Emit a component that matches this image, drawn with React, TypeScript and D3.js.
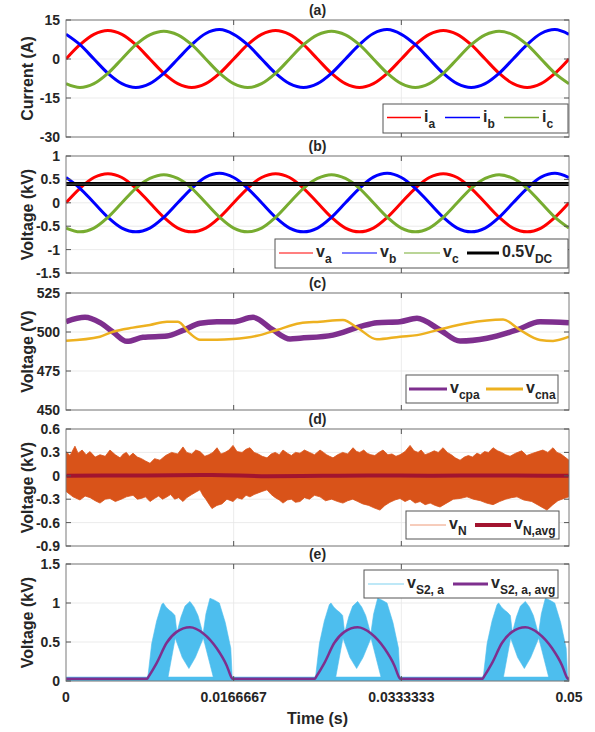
import React from 'react';
import * as d3 from 'd3';

// ---------- layout ----------
const W = 595;
const H = 732;
const X0 = 66;
const X1 = 569;
const PANEL_H = 117;
const panelTops = [20, 156, 293, 429, 564];
const FONT = "'Liberation Sans', Arial, Helvetica, sans-serif";
const TXT = '#262626';

// ---------- x axis ----------
const xDomain = [0, 0.05];
const xTicks = [0, 0.0166667, 0.0333333, 0.05];
const xTickLabels = ['0', '0.0166667', '0.0333333', '0.05'];

// ---------- (a) currents, sampled every 30 degrees ----------
const tSin = d3.range(37).map((i) => (i * 0.05) / 36);
const iA = [0, 5.5, 9.5, 11, 9.5, 5.5, 0, -5.5, -9.5, -11, -9.5, -5.5,
  0, 5.5, 9.5, 11, 9.5, 5.5, 0, -5.5, -9.5, -11, -9.5, -5.5,
  0, 5.5, 9.5, 11, 9.5, 5.5, 0, -5.5, -9.5, -11, -9.5, -5.5, 0];
const iB = [9.5, 5.5, 0, -5.5, -9.5, -11, -9.5, -5.5, 0, 5.5, 9.8, 11.3,
  9.5, 5.5, 0, -5.5, -9.5, -11, -9.5, -5.5, 0, 5.5, 9.8, 11.3,
  9.5, 5.5, 0, -5.5, -9.5, -11, -9.5, -5.5, 0, 5.5, 9.8, 11.3, 9.5];
const iC = [-9.5, -11, -9.5, -5.5, 0, 5.5, 9.3, 10.7, 9.3, 5.5, 0, -5.5,
  -9.5, -11, -9.5, -5.5, 0, 5.5, 9.3, 10.7, 9.3, 5.5, 0, -5.5,
  -9.5, -11, -9.5, -5.5, 0, 5.5, 9.3, 10.7, 9.3, 5.5, 0, -5.5, -9.5];

// ---------- (b) voltages (kV) ----------
const vA = [0, 0.31, 0.54, 0.62, 0.54, 0.31, 0, -0.31, -0.54, -0.62, -0.54, -0.31,
  0, 0.31, 0.54, 0.62, 0.54, 0.31, 0, -0.31, -0.54, -0.62, -0.54, -0.31,
  0, 0.31, 0.54, 0.62, 0.54, 0.31, 0, -0.31, -0.54, -0.62, -0.54, -0.31, 0];
const vB = [0.54, 0.31, 0, -0.31, -0.54, -0.62, -0.54, -0.31, 0, 0.31, 0.55, 0.63,
  0.54, 0.31, 0, -0.31, -0.54, -0.62, -0.54, -0.31, 0, 0.31, 0.55, 0.63,
  0.54, 0.31, 0, -0.31, -0.54, -0.62, -0.54, -0.31, 0, 0.31, 0.55, 0.63, 0.54];
const vC = [-0.54, -0.62, -0.54, -0.31, 0, 0.31, 0.52, 0.6, 0.52, 0.31, 0, -0.31,
  -0.54, -0.62, -0.54, -0.31, 0, 0.31, 0.52, 0.6, 0.52, 0.31, 0, -0.31,
  -0.54, -0.62, -0.54, -0.31, 0, 0.31, 0.52, 0.6, 0.52, 0.31, 0, -0.31, -0.54];
const vDcHalf = 0.4;

// ---------- (c) capacitor voltages (V) ----------
const vCpaT = [0, 0.00189, 0.00338, 0.00467, 0.00606, 0.00765, 0.01004, 0.01163, 0.01332, 0.01501, 0.0166,
  0.01859, 0.02058, 0.02227, 0.02326, 0.02654, 0.02922, 0.03091, 0.0332, 0.03489, 0.03718, 0.03917,
  0.04185, 0.04483, 0.04712, 0.05];
const vCpaV = [506.6, 509.4, 506, 500, 494, 496.6, 497.4, 501, 505.6, 506.6, 506.6,
  509.4, 501.3, 495.5, 496, 498, 503.4, 506, 506.6, 508.8, 501.3, 494.2,
  496, 501.3, 506.6, 506];
const vCnaT = [0, 0.00338, 0.00467, 0.00666, 0.00835, 0.01004, 0.01113, 0.01233, 0.01332, 0.01501, 0.0166,
  0.01928, 0.02097, 0.02326, 0.02525, 0.02753, 0.02903, 0.03091, 0.0332, 0.03489, 0.03718, 0.03986,
  0.04344, 0.04513, 0.04712, 0.04841, 0.05];
const vCnaV = [494.4, 497, 500.2, 502.8, 504.5, 506.6, 506.6, 499, 495, 495, 495.5,
  498, 501.3, 505.6, 506.6, 507.7, 502.4, 495.3, 497, 498, 501.7, 505.6,
  508, 501.3, 494.9, 494.3, 497];

// ---------- (d) neutral voltage envelope (kV) ----------
const vNUpper: [number, number][] = [[0, 0.31], [0.0004, 0.26], [0.00089, 0.38], [0.0012, 0.29], [0.0016, 0.33], [0.002, 0.27],
  [0.00239, 0.31], [0.0029, 0.24], [0.00338, 0.27], [0.0039, 0.25], [0.00437, 0.33], [0.0049, 0.27], [0.00537, 0.23],
  [0.0057, 0.28], [0.006, 0.3], [0.0063, 0.25], [0.00666, 0.29], [0.0071, 0.24], [0.0075, 0.22], [0.0079, 0.19],
  [0.00835, 0.16], [0.0088, 0.22], [0.00934, 0.2], [0.0099, 0.26], [0.0105, 0.3], [0.0111, 0.28], [0.01163, 0.37],
  [0.012, 0.3], [0.0125, 0.28], [0.0129, 0.33], [0.01332, 0.31], [0.0138, 0.25], [0.0142, 0.27], [0.0146, 0.3],
  [0.01501, 0.36], [0.0154, 0.28], [0.0158, 0.3], [0.0162, 0.33], [0.0166, 0.39], [0.017, 0.31], [0.0175, 0.3],
  [0.0179, 0.34], [0.01829, 0.36], [0.0187, 0.3], [0.0191, 0.28], [0.0195, 0.25], [0.01998, 0.23], [0.0204, 0.28],
  [0.0208, 0.3], [0.0212, 0.27], [0.02157, 0.33], [0.022, 0.29], [0.0224, 0.26], [0.0228, 0.3], [0.02326, 0.29],
  [0.0237, 0.33], [0.0242, 0.3], [0.0247, 0.27], [0.02525, 0.33], [0.0256, 0.3], [0.0259, 0.27], [0.0262, 0.25],
  [0.02654, 0.23], [0.027, 0.27], [0.0275, 0.3], [0.028, 0.28], [0.02853, 0.36], [0.0289, 0.31], [0.0292, 0.3],
  [0.0296, 0.33], [0.02992, 0.29], [0.0303, 0.27], [0.0307, 0.26], [0.0311, 0.3], [0.03151, 0.33], [0.032, 0.27],
  [0.0324, 0.28], [0.0328, 0.25], [0.0332, 0.27], [0.0337, 0.31], [0.0342, 0.39], [0.0346, 0.32], [0.035, 0.3],
  [0.0353, 0.33], [0.03569, 0.27], [0.0361, 0.29], [0.0366, 0.32], [0.037, 0.3], [0.03748, 0.36], [0.0379, 0.3],
  [0.0383, 0.27], [0.0387, 0.23], [0.03917, 0.2], [0.0396, 0.24], [0.04, 0.26], [0.0404, 0.24], [0.04085, 0.29],
  [0.0412, 0.27], [0.0416, 0.31], [0.042, 0.3], [0.04245, 0.36], [0.0429, 0.32], [0.0433, 0.3], [0.0437, 0.27],
  [0.04414, 0.25], [0.0447, 0.29], [0.0453, 0.32], [0.0458, 0.26], [0.04642, 0.29], [0.0469, 0.31], [0.0474, 0.33],
  [0.0479, 0.3], [0.04841, 0.36], [0.0488, 0.3], [0.0492, 0.28], [0.0496, 0.24], [0.05, 0.2]];
const vNLower: [number, number][] = [[0, -0.2], [0.0007, -0.27], [0.00139, -0.31], [0.0019, -0.26], [0.0024, -0.28], [0.0029, -0.32],
  [0.00338, -0.35], [0.0039, -0.3], [0.00437, -0.29], [0.0049, -0.33], [0.0055, -0.3], [0.006, -0.27], [0.00666, -0.25],
  [0.0071, -0.3], [0.0075, -0.29], [0.0079, -0.27], [0.00835, -0.33], [0.0088, -0.29], [0.0092, -0.26], [0.0096, -0.3],
  [0.01004, -0.27], [0.0104, -0.24], [0.0108, -0.3], [0.0112, -0.28], [0.01163, -0.33], [0.012, -0.28], [0.0125, -0.24],
  [0.0129, -0.21], [0.01332, -0.18], [0.0136, -0.25], [0.0139, -0.3], [0.0142, -0.36], [0.01451, -0.42], [0.015, -0.38],
  [0.0155, -0.36], [0.016, -0.3], [0.0166, -0.33], [0.017, -0.28], [0.0175, -0.3], [0.0179, -0.25], [0.01829, -0.27],
  [0.0187, -0.24], [0.0191, -0.22], [0.0195, -0.2], [0.01998, -0.18], [0.0204, -0.24], [0.0208, -0.28], [0.0212, -0.31],
  [0.02157, -0.35], [0.022, -0.31], [0.0224, -0.3], [0.0228, -0.34], [0.02326, -0.33], [0.0237, -0.28], [0.0242, -0.3],
  [0.0247, -0.25], [0.02525, -0.27], [0.0258, -0.32], [0.0264, -0.3], [0.027, -0.33], [0.02753, -0.35], [0.028, -0.32],
  [0.0285, -0.3], [0.029, -0.33], [0.0295, -0.36], [0.0301, -0.38], [0.0306, -0.41], [0.03121, -0.44], [0.0317, -0.38],
  [0.0322, -0.34], [0.0327, -0.31], [0.0332, -0.29], [0.0337, -0.33], [0.0342, -0.3], [0.0347, -0.35], [0.0352, -0.33],
  [0.0357, -0.37], [0.0362, -0.35], [0.0367, -0.38], [0.03718, -0.4], [0.0377, -0.36], [0.0385, -0.3], [0.0392, -0.29],
  [0.03986, -0.27], [0.0405, -0.3], [0.0412, -0.32], [0.0418, -0.35], [0.04245, -0.37], [0.0431, -0.33], [0.0437, -0.3],
  [0.0443, -0.28], [0.04483, -0.27], [0.0455, -0.31], [0.0463, -0.33], [0.047, -0.38], [0.04781, -0.44], [0.0484, -0.37],
  [0.0489, -0.32], [0.0495, -0.29], [0.05, -0.27]];
const vNAvg: [number, number][] = [[0, 0], [0.008, 0.005], [0.0145, 0.01], [0.02, -0.005], [0.0255, 0], [0.03, 0.005],
  [0.0365, 0], [0.042, 0.005], [0.0475, 0], [0.05, 0]];

// ---------- (e) switch voltage (kV) ----------
const pulseStarts = [0.00808, 0.02475, 0.04142];
const pulseUpperDt = [0, 0.0001, 0.00044, 0.00093, 0.00143, 0.00159, 0.00186, 0.00216, 0.00246, 0.00275, 0.00295,
  0.00335, 0.00375, 0.00424, 0.00464, 0.00504, 0.00534, 0.00554, 0.00583, 0.00623, 0.00663, 0.00716, 0.00775,
  0.0083, 0.00845];
const pulseUpperV = [0.03, 0.1, 0.48, 0.77, 0.98, 1.0, 0.95, 0.91, 0.88, 0.84, 0.62,
  0.82, 0.96, 1.02, 0.95, 0.84, 0.7, 0.6, 0.86, 1.06, 1.04, 1.0, 0.75, 0.42, 0.03];
const pulseLowerDt = [0, 0.00199, 0.00278, 0.00348, 0.00414, 0.00477, 0.00557, 0.00666, 0.00845];
const pulseLowerV = [0, 0, 0.55, 0.3, 0.16, 0.3, 0.55, 0, 0];
const avgDt = [0, 0.0001, 0.00093, 0.00193, 0.00292, 0.00424, 0.00557, 0.0069, 0.00789, 0.00839, 0.00845];
const avgV = [0.03, 0.05, 0.23, 0.49, 0.63, 0.69, 0.61, 0.42, 0.2, 0.04, 0.03];
const vS2OffBand = [0, 0.055];
const vS2OffAvg = 0.03;

// ---------- colours ----------
const RED = '#FF0000';
const BLUE = '#0000FF';
const GREEN = '#77AC30';
const PURPLE = '#7E2F8E';
const YELLOW = '#EDB120';
const ORANGE = '#D95319';
const DARKRED = '#A2142F';
const LIGHTBLUE = '#4DBEEE';

const x = d3.scaleLinear().domain(xDomain).range([X0, X1]);

type Pt = [number, number];

function polygon(upper: Pt[], lower: Pt[], y: d3.ScaleLinear<number, number>) {
  const pts = [...upper, ...lower.slice().reverse()].map((p) => [x(p[0]), y(p[1])] as [number, number]);
  return (d3.line()(pts) || '') + 'Z';
}

const panels = [
  { key: 'a', title: '(a)', ylabel: 'Current (A)', domain: [-30, 15], ticks: [15, 0, -15, -30], labels: ['15', '0', '-15', '-30'] },
  { key: 'b', title: '(b)', ylabel: 'Voltage (kV)', domain: [-1.5, 1], ticks: [1, 0.5, 0, -0.5, -1, -1.5], labels: ['1', '0.5', '0', '-0.5', '-1', '-1.5'] },
  { key: 'c', title: '(c)', ylabel: 'Voltage (V)', domain: [450, 525], ticks: [525, 500, 475, 450], labels: ['525', '500', '475', '450'] },
  { key: 'd', title: '(d)', ylabel: 'Voltage (kV)', domain: [-0.9, 0.6], ticks: [0.6, 0.3, 0, -0.3, -0.6, -0.9], labels: ['0.6', '0.3', '0', '-0.3', '-0.6', '-0.9'] },
  { key: 'e', title: '(e)', ylabel: 'Voltage (kV)', domain: [0, 1.5], ticks: [1.5, 1, 0.5, 0], labels: ['1.5', '1', '0.5', '0'] },
];

type LegItem = { x1: number; x2: number; color: string; width: number; main: string; sub: string };
type Leg = { box: [number, number, number, number]; lineY: number; items: LegItem[] };

const legends: Record<string, Leg> = {
  a: { box: [383, 104, 185, 29], lineY: 117.5, items: [
    { x1: 387, x2: 421, color: RED, width: 1.5, main: 'i', sub: 'a' },
    { x1: 445, x2: 480, color: BLUE, width: 1.5, main: 'i', sub: 'b' },
    { x1: 504, x2: 539, color: GREEN, width: 1.5, main: 'i', sub: 'c' }] },
  b: { box: [275, 239, 293, 29], lineY: 253, items: [
    { x1: 279, x2: 313, color: RED, width: 1.2, main: 'v', sub: 'a' },
    { x1: 342, x2: 377, color: BLUE, width: 1.2, main: 'v', sub: 'b' },
    { x1: 404, x2: 440, color: GREEN, width: 1.2, main: 'v', sub: 'c' },
    { x1: 467, x2: 499, color: '#000', width: 3, main: '0.5V', sub: 'DC' }] },
  c: { box: [406, 375, 152, 28], lineY: 389, items: [
    { x1: 409, x2: 447, color: PURPLE, width: 3, main: 'v', sub: 'cpa' },
    { x1: 486, x2: 523, color: YELLOW, width: 3, main: 'v', sub: 'cna' }] },
  d: { box: [406, 511, 153, 28], lineY: 525, items: [
    { x1: 410, x2: 446, color: '#EE9A78', width: 1, main: 'v', sub: 'N' },
    { x1: 475, x2: 511, color: DARKRED, width: 4, main: 'v', sub: 'N,avg' }] },
  e: { box: [364, 570, 194, 28], lineY: 584, items: [
    { x1: 368, x2: 404, color: '#A8E0F5', width: 1.5, main: 'v', sub: 'S2, a' },
    { x1: 453, x2: 488, color: PURPLE, width: 3, main: 'v', sub: 'S2, a, avg' }] },
};

function Legend({ leg }: { leg: Leg }) {
  const [bx, by, bw, bh] = leg.box;
  return (
    <g>
      <rect x={bx} y={by} width={bw} height={bh} fill="#fff" stroke="#555" strokeWidth={1} />
      {leg.items.map((it, i) => (
        <g key={i}>
          <line x1={it.x1} x2={it.x2} y1={leg.lineY} y2={leg.lineY} stroke={it.color} strokeWidth={it.width} />
          <text x={it.x2 + 3} y={leg.lineY + 4} fontSize={16} fontWeight="bold" fill={TXT} style={{ whiteSpace: 'pre' }}>
            <tspan>{it.main}</tspan>
            <tspan fontSize={12} dy={6}>{it.sub}</tspan>
          </text>
        </g>
      ))}
    </g>
  );
}

function content(key: string, y: d3.ScaleLinear<number, number>) {
  const sinLine = d3.line<number>().x((_, i) => x(tSin[i])).y((d) => y(d)).curve(d3.curveCatmullRom);
  const ptLine = d3.line<Pt>().x((d) => x(d[0])).y((d) => y(d[1]));
  if (key === 'a') {
    return (
      <g>
        <path d={sinLine(iA) || ''} fill="none" stroke={RED} strokeWidth={3} />
        <path d={sinLine(iB) || ''} fill="none" stroke={BLUE} strokeWidth={3} />
        <path d={sinLine(iC) || ''} fill="none" stroke={GREEN} strokeWidth={3} />
      </g>
    );
  }
  if (key === 'b') {
    return (
      <g>
        <path d={sinLine(vA) || ''} fill="none" stroke={RED} strokeWidth={3} />
        <path d={sinLine(vB) || ''} fill="none" stroke={BLUE} strokeWidth={3} />
        <path d={sinLine(vC) || ''} fill="none" stroke={GREEN} strokeWidth={3} />
        <line x1={x(0)} x2={x(0.05)} y1={y(vDcHalf)} y2={y(vDcHalf)} stroke="#000" strokeWidth={4} />
        <line x1={x(0)} x2={x(0.05)} y1={y(vDcHalf)} y2={y(vDcHalf)} stroke="#555" strokeWidth={1} />
      </g>
    );
  }
  if (key === 'c') {
    const cpa = vCpaT.map((t, i) => [t, vCpaV[i]] as Pt);
    const cna = vCnaT.map((t, i) => [t, vCnaV[i]] as Pt);
    const l = d3.line<Pt>().x((d) => x(d[0])).y((d) => y(d[1])).curve(d3.curveMonotoneX);
    return (
      <g>
        <path d={l(cpa) || ''} fill="none" stroke={PURPLE} strokeWidth={5.5} />
        <path d={l(cna) || ''} fill="none" stroke={YELLOW} strokeWidth={2.5} />
      </g>
    );
  }
  if (key === 'd') {
    return (
      <g>
        <path d={polygon(vNUpper, vNLower, y)} fill={ORANGE} stroke={ORANGE} strokeWidth={0.8} />
        <path d={ptLine.curve(d3.curveMonotoneX)(vNAvg) || ''} fill="none" stroke={DARKRED} strokeWidth={4} />
      </g>
    );
  }
  // e
  const offUpper: Pt[] = [[0, vS2OffBand[1]], [0.05, vS2OffBand[1]]];
  const offLower: Pt[] = [[0, vS2OffBand[0]], [0.05, vS2OffBand[0]]];
  const avgPts: Pt[] = [[0, vS2OffAvg]];
  pulseStarts.forEach((s) => avgDt.forEach((d, i) => avgPts.push([s + d, avgV[i]])));
  avgPts.push([0.05, vS2OffAvg]);
  return (
    <g>
      <path d={polygon(offUpper, offLower, y)} fill={LIGHTBLUE} />
      {pulseStarts.map((s, k) => {
        const up = pulseUpperDt.map((d, i) => [s + d, pulseUpperV[i]] as Pt);
        const lo = pulseLowerDt.map((d, i) => [s + d, pulseLowerV[i]] as Pt);
        return <path key={k} d={polygon(up, lo, y)} fill={LIGHTBLUE} stroke={LIGHTBLUE} strokeWidth={0.6} />;
      })}
      <path d={d3.line<Pt>().x((d) => x(d[0])).y((d) => y(d[1])).curve(d3.curveMonotoneX)(avgPts) || ''}
        fill="none" stroke={PURPLE} strokeWidth={2.5} />
    </g>
  );
}

function Panel({ p, top }: { p: typeof panels[number]; top: number }) {
  const bottom = top + PANEL_H;
  const y = d3.scaleLinear().domain(p.domain).range([bottom, top]);
  const cx = (X0 + X1) / 2;
  return (
    <g>
      <defs>
        <clipPath id={`clip-${p.key}`}>
          <rect x={X0} y={top} width={X1 - X0} height={PANEL_H} />
        </clipPath>
      </defs>
      <rect x={X0} y={top} width={X1 - X0} height={PANEL_H} fill="#fff" />
      {p.ticks.map((t) => (
        <line key={`gy${t}`} x1={X0} x2={X1} y1={y(t)} y2={y(t)} stroke="#e6e6e6" strokeWidth={0.8} />
      ))}
      {xTicks.slice(1, -1).map((t) => (
        <line key={`gx${t}`} x1={x(t)} x2={x(t)} y1={top} y2={bottom} stroke="#e6e6e6" strokeWidth={0.8} />
      ))}
      <g clipPath={`url(#clip-${p.key})`}>{content(p.key, y)}</g>
      <rect x={X0} y={top} width={X1 - X0} height={PANEL_H} fill="none" stroke="#7a7a7a" strokeWidth={1} />
      {p.ticks.map((t) => (
        <g key={`ty${t}`}>
          <line x1={X0} x2={X0 + 5} y1={y(t)} y2={y(t)} stroke="#555" strokeWidth={1} />
          <line x1={X1 - 5} x2={X1} y1={y(t)} y2={y(t)} stroke="#555" strokeWidth={1} />
        </g>
      ))}
      {xTicks.slice(1, -1).map((t) => (
        <g key={`tx${t}`}>
          <line x1={x(t)} x2={x(t)} y1={bottom} y2={bottom - 5} stroke="#555" strokeWidth={1} />
          <line x1={x(t)} x2={x(t)} y1={top} y2={top + 5} stroke="#555" strokeWidth={1} />
        </g>
      ))}
      {p.ticks.map((t, i) => (
        <text key={`lb${t}`} x={60} y={y(t) + 5} textAnchor="end" fontSize={14} fontWeight="bold" fill={TXT}>
          {p.labels[i]}
        </text>
      ))}
      <text transform={`translate(33,${top + PANEL_H / 2}) rotate(-90)`} textAnchor="middle" fontSize={16}
        fontWeight="bold" fill={TXT}>{p.ylabel}</text>
      <text x={cx} y={top - 5} textAnchor="middle" fontSize={14} fontWeight="bold" fill={TXT}>{p.title}</text>
      <Legend leg={legends[p.key]} />
    </g>
  );
}

export default function App() {
  const lastBottom = panelTops[4] + PANEL_H;
  return (
    <svg width={W} height={H} style={{ position: 'absolute', left: 0, top: 0 }} fontFamily={FONT}>
      <rect x={0} y={0} width={W} height={H} fill="#fff" />
      {panels.map((p, i) => (
        <Panel key={p.key} p={p} top={panelTops[i]} />
      ))}
      {xTicks.map((t, i) => (
        <text key={`xl${t}`} x={x(t)} y={lastBottom + 21} textAnchor="middle" fontSize={14} fontWeight="bold" fill={TXT}>
          {xTickLabels[i]}
        </text>
      ))}
      <text x={(X0 + X1) / 2} y={724} textAnchor="middle" fontSize={16} fontWeight="bold" fill={TXT}>Time (s)</text>
    </svg>
  );
}
